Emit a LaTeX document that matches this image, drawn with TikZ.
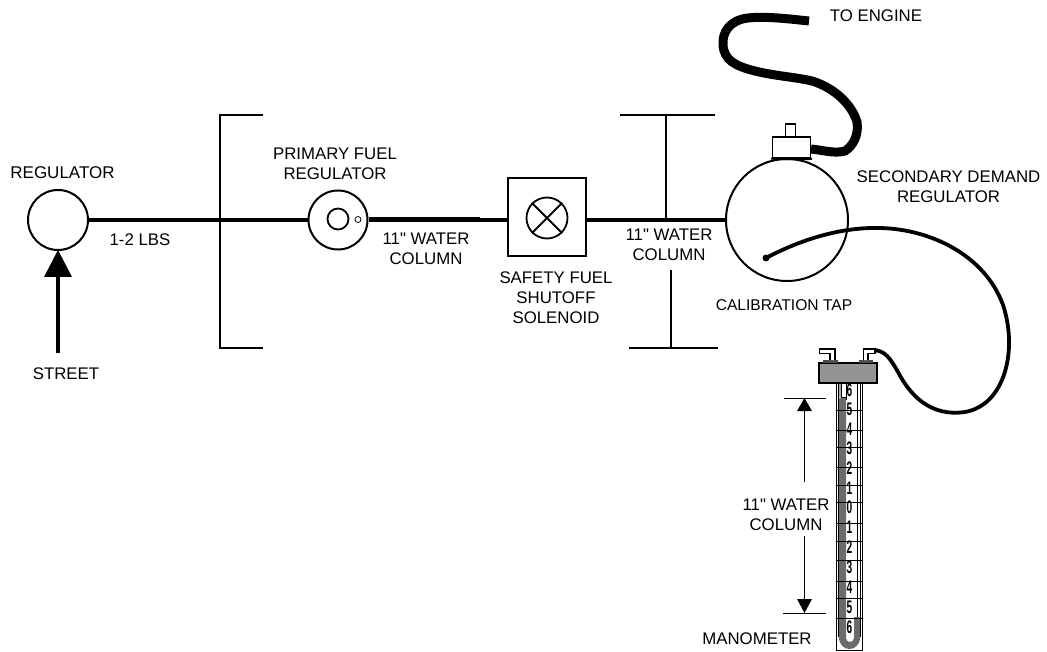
\documentclass[tikz,border=0pt]{standalone}
\usepackage{fontspec}
\newfontfamily\lblfont{Liberation Sans}
\setmainfont{Liberation Sans}
\usetikzlibrary{arrows.meta}
\definecolor{tubegrey}{gray}{0.42}
\definecolor{headgrey}{gray}{0.58}
\tikzset{
 lbl/.style={font=\lblfont\fontsize{16.8}{20}\selectfont,align=center,inner sep=0pt,text=black},
 num/.style={font=\fontsize{13}{13}\bfseries\selectfont,inner sep=0pt},
 pipe/.style={line width=3.6pt},
 thickpipe/.style={line width=5pt},
 hose/.style={line width=9pt},
 tube/.style={line width=3.8pt,line cap=round},
 brk/.style={line width=1.4pt},
 shp/.style={draw,line width=2pt,fill=white},
 dim/.style={line width=.9pt},
 tick/.style={line width=.8pt},
}
\begin{document}
\begin{tikzpicture}[x=1pt,y=-1pt]
\useasboundingbox (0,0) rectangle (1047,652);
% brackets
\draw[brk] (263,115)--(220,115)--(220,348)--(263,348);
\draw[brk] (620,115)--(715,115) (666,115)--(666,220);
\draw[brk] (629,348)--(718,348) (671,348)--(671,270);
% main line
\node[circle,shp,minimum size=60pt,inner sep=0pt] (reg) at (58,220) {};
\node[circle,shp,minimum size=59pt,inner sep=0pt] (prim) at (338,220) {};
\node[rectangle,shp,minimum size=78pt,inner sep=0pt] (sol) at (546.5,217) {};
\node[circle,shp,minimum size=122pt,inner sep=0pt] (sec) at (787,220) {};
\coordinate (thickend) at (480,220);
\draw[pipe] (reg)--(prim);
\draw[thickpipe] (prim.east)--(thickend);
\draw[pipe] (thickend)--(sol.west |- thickend);
\draw[pipe] (sol.east |- thickend)--(sec.west);
% primary internals
\node[circle,draw,line width=1.8pt,minimum size=21pt,inner sep=0pt] (pi) at (338,219) {};
\node[circle,draw,line width=.8pt,minimum size=6pt,inner sep=0pt] (ps) at (358,219.5) {};
% solenoid symbol
\node[circle,draw,line width=1.8pt,minimum size=41pt,inner sep=0pt] (sy) at (547,218) {};
\draw[line width=1.8pt] (sy.north west)--(sy.south east) (sy.north east)--(sy.south west);
% street arrow
\coordinate (st) at (58,353);
\draw[line width=3.4pt] (st)--(58,270);
\fill (58,250)--(72,277)--(44,277)--cycle;
% secondary top
\node[rectangle,draw,line width=1.8pt,fill=white,minimum width=10pt,minimum height=13pt,inner sep=0pt] (nub) at (790.5,130.5) {};
% hose to engine
\draw[hose] (809,21) .. controls (790,19) and (765,16) .. (748,18)
 .. controls (730,20) and (722,32) .. (723,45)
 .. controls (724,60) and (735,66) .. (755,71)
 .. controls (775,76) and (795,77) .. (812,81)
 .. controls (835,88) and (852,105) .. (857,122)
 .. controls (859,135) and (853,146) .. (845,151)
 .. controls (835,154) and (822,150) .. (811,149);
\node[rectangle,draw,line width=1.8pt,fill=white,minimum width=38pt,minimum height=21pt,inner sep=0pt] (cap) at (791.5,147.5) {};
\draw[line width=2pt] (771,158.5) .. controls (778,159.5) and (785,159) .. (812,159);
% calibration hose
\node[circle,fill,inner sep=0pt,minimum size=7pt] (tap) at (766,258) {};
\draw[tube] (tap.center) .. controls (800,240) and (840,227) .. (880,228)
 .. controls (930,229) and (985,255) .. (1003,305)
 .. controls (1018,350) and (1005,405) .. (965,412)
 .. controls (930,417) and (910,395) .. (898,372)
 .. controls (890,358) and (885,350) .. (872,350);
% manometer
\node[rectangle,draw,line width=.9pt,minimum width=26pt,anchor=north,minimum height=267pt,inner sep=0pt] (man) at (849,383) {};
\fill[tubegrey] (839,398) -- (839,637) .. controls (839,653) and (860,653) .. (860,637)
  -- (860,617) -- (854,617) -- (854,638) .. controls (854,643.3) and (846,643.3) .. (846,638)
  -- (846,398) -- cycle;
\draw[line width=.8pt] (838.5,383)--(838.5,637) (846,383)--(846,400) (857,383)--(857,617) (860,383)--(860,637);
\draw[line width=.8pt] (841,384)--(841,397)--(846,397);
\fill[tubegrey!60] (838.8,384) rectangle (840.6,397);
\foreach \y in {410,430,447,467,485,502,523,541,560,581,598,618}
  \draw[tick] (836,\y)--(862,\y);
\foreach \n/\y in {6/390,5/409,4/429,3/448,2/468,1/488,0/507,1/527,2/547,3/567,4/587,5/607,6/627}
  \node[num] at (849.5,\y) {\scalebox{.78}[1.4]{\n}};
% head and fittings
\node[rectangle,draw,line width=1.8pt,fill=headgrey,minimum width=58pt,minimum height=20pt,inner sep=0pt] (hd) at (848,373) {};
\draw[line width=2.6pt,tubegrey!70!black] (823,361.5)--(838,361.5) (859,361.5)--(873,361.5);
\draw[line width=1.1pt,fill=white] (830,360)--(830,353.5)--(819.5,353.5)--(819.5,349)--(835,349)--(835,360);
\draw[line width=1.1pt,fill=white] (863.5,360)--(863.5,349)--(875,349)--(875,353.5)--(868,353.5)--(868,360);
% dimension
\draw[line width=.9pt] (784,398)--(826,398) (783,613)--(826,613);
\coordinate (dt) at (804.5,398);
\coordinate (db) at (804.5,613);
\fill (dt)--(812,411)--(797,411)--cycle;
\fill (db)--(812,599)--(797,599)--cycle;
\draw[dim] (dt)--(804.5,482);
\draw[dim] (804.5,536)--(db);
% labels
\node[lbl] (t1) at (62.5,173) {\fontsize{17}{20}\selectfont REGULATOR};
\node[lbl] (t2) at (140,240) {1-2 LBS};
\node[lbl] (t3) at (66,374) {STREET};
\node[lbl] (t4) at (335,163.5) {PRIMARY FUEL\\REGULATOR};
\node[lbl] (t5) at (426,249) {11" WATER\\COLUMN};
\node[lbl] (t6) at (556,298) {SAFETY FUEL\\SHUTOFF\\SOLENOID};
\node[lbl] (t7) at (669,245) {11" WATER\\COLUMN};
\node[lbl] (t8) at (876,16) {TO ENGINE};
\node[lbl] (t9) at (948.5,187) {SECONDARY DEMAND\\REGULATOR};
\node[lbl] (t10) at (784,305) {\fontsize{15.6}{20}\selectfont CALIBRATION TAP};
\node[lbl] (t11) at (786,514.5) {11" WATER\\COLUMN};
\node[lbl] (t12) at (757,639) {MANOMETER};
\end{tikzpicture}
\end{document}
